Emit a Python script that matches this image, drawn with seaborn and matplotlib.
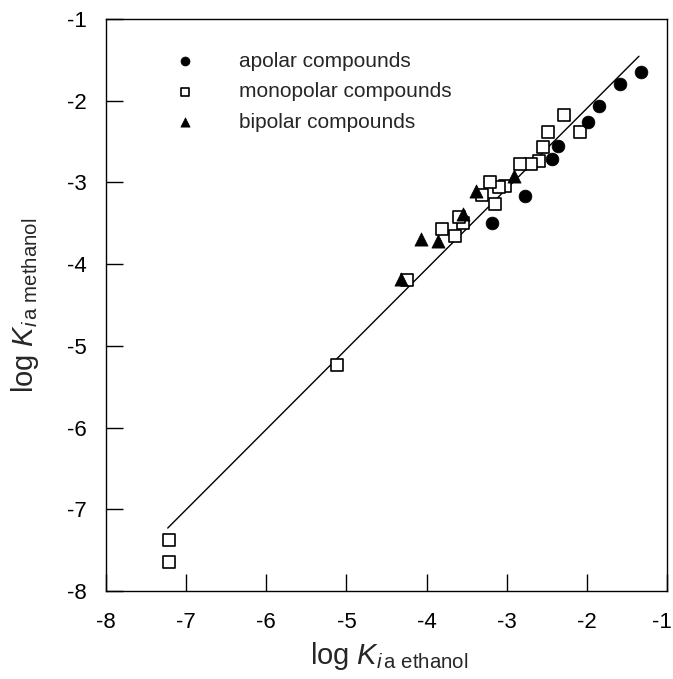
import matplotlib
matplotlib.use("Agg")
import matplotlib.pyplot as plt
import matplotlib.transforms as mtransforms
import seaborn as sns
import numpy as np
import pandas as pd

# ---- data ----
apolar_x = [-1.32, -1.59, -1.85, -1.985, -2.36, -2.43, -2.77, -3.18]
apolar_y = [-1.65, -1.80, -2.07, -2.26, -2.55, -2.71, -3.17, -3.50]

mono_x = [-2.29, -2.49, -2.09, -2.55, -2.60, -2.70, -2.83, -3.02, -3.10, -3.21,
          -3.31, -3.14, -3.54, -3.59, -3.81, -3.64, -4.24, -5.12, -7.22, -7.22]
mono_y = [-2.18, -2.38, -2.38, -2.57, -2.74, -2.77, -2.77, -3.04, -3.05, -3.00,
          -3.15, -3.27, -3.50, -3.42, -3.57, -3.66, -4.19, -5.23, -7.37, -7.64]

bip_x = [-4.32, -4.07, -3.86, -3.55, -3.38, -2.91]
bip_y = [-4.18, -3.69, -3.72, -3.39, -3.11, -2.92]

fit_x = [-7.23, -1.35]
fit_slope = 0.982
fit_intercept = -0.13

legend_labels = ["apolar compounds", "monopolar compounds", "bipolar compounds"]
ticks = [-8, -7, -6, -5, -4, -3, -2, -1]

# ---- style ----
sns.set_theme(style="white")
plt.rcParams["font.family"] = ["Liberation Sans", "DejaVu Sans"]
plt.rcParams["axes.unicode_minus"] = False
plt.rcParams["mathtext.fontset"] = "custom"
plt.rcParams["mathtext.rm"] = "Liberation Sans"
plt.rcParams["mathtext.it"] = "Liberation Sans:italic"

fig = plt.figure(figsize=(6.73, 6.79), dpi=100)
ax = fig.add_axes([106 / 673, 1 - 591 / 679, 561 / 673, 572 / 679])

df_fit = pd.DataFrame({"x": fit_x})
df_fit["y"] = fit_slope * df_fit["x"] + fit_intercept
sns.lineplot(data=df_fit, x="x", y="y", color="black", linewidth=1.0, ax=ax,
             legend=False)

sns.scatterplot(x=mono_x, y=mono_y, marker="s", s=70, facecolor="white",
                edgecolor="black", linewidth=1.2, ax=ax, label=legend_labels[1],
                zorder=3)
sns.scatterplot(x=bip_x, y=bip_y, marker="^", s=90, color="black",
                edgecolor="black", linewidth=0.5, ax=ax, label=legend_labels[2],
                zorder=4)
sns.scatterplot(x=apolar_x, y=apolar_y, marker="o", s=85, color="black",
                edgecolor="black", linewidth=0.5, ax=ax, label=legend_labels[0],
                zorder=5)

ax.set_xlim(-8, -1)
ax.set_ylim(-8, -1)
ax.set_xticks(ticks)
ax.set_yticks(ticks)
ax.set_xticklabels([str(t) for t in ticks])
ax.set_yticklabels([str(t) for t in ticks])
ax.tick_params(axis="both", direction="in", length=12, width=1.0,
               labelsize=16, colors="black", bottom=True, left=True,
               top=False, right=False)
ax.tick_params(axis="x", pad=15)
ax.tick_params(axis="y", pad=14)
for sp in ax.spines.values():
    sp.set_color("black")
    sp.set_linewidth(1.0)

# keep the last x tick label inside the figure
last = ax.get_xticklabels()[-1]
last.set_transform(last.get_transform() +
                   mtransforms.ScaledTranslation(-5 / 100, 0, fig.dpi_scale_trans))

ax.set_xlabel(r"$\mathrm{log}\ K_{i\,\mathrm{a\ ethanol}}$", fontsize=21)
ax.set_ylabel(r"$\mathrm{log}\ K_{i\,\mathrm{a\ methanol}}$", fontsize=21)
ax.xaxis.set_label_coords(0.505, -0.085)
ax.yaxis.set_label_coords(-0.115, 0.5)

handles, labels = ax.get_legend_handles_labels()
order = [labels.index(l) for l in legend_labels]
leg = ax.legend([handles[i] for i in order], [labels[i] for i in order],
                loc="upper left", bbox_to_anchor=(0.122, 0.943),
                frameon=False, fontsize=15, markerscale=0.7,
                handlelength=1.0, handletextpad=2.1, labelspacing=0.55,
                borderpad=0, borderaxespad=0)

fig.savefig("out.png", dpi=100)
